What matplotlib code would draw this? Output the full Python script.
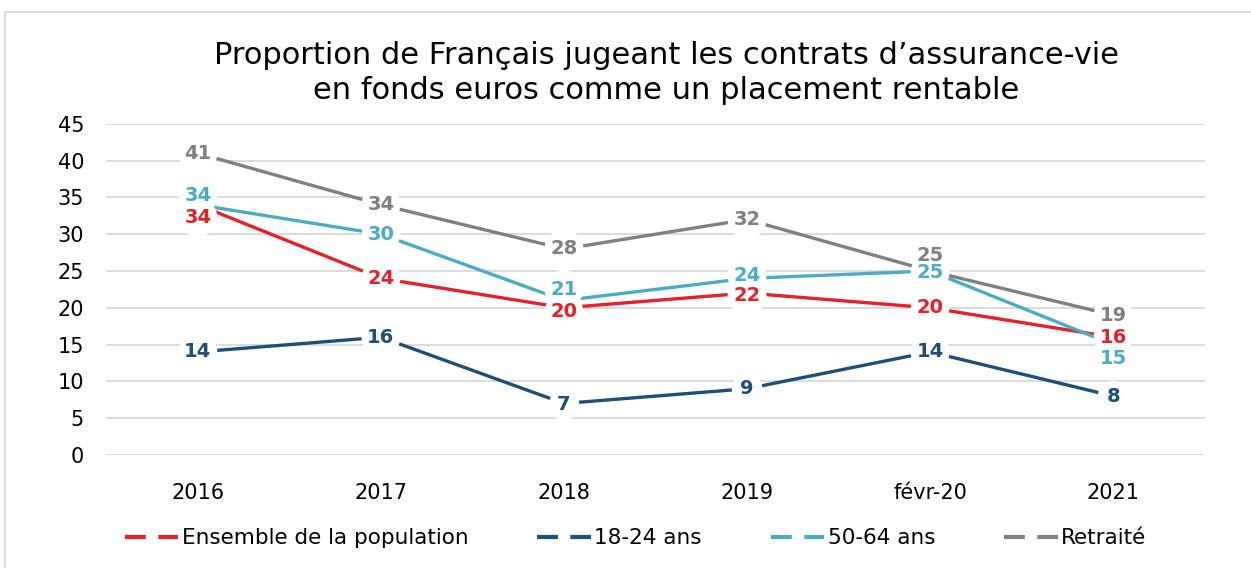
"""Assurance-vie en fonds euros: proportion jugeant le placement rentable."""

import matplotlib

matplotlib.use("Agg")
import matplotlib.pyplot as plt  # noqa: E402
from matplotlib.patches import Rectangle  # noqa: E402

years = ["2016", "2017", "2018", "2019", "févr-20", "2021"]
ensemble = [34, 24, 20, 22, 20, 16]
jeunes = [14, 16, 7, 9, 14, 8]
seniors = [34, 30, 21, 24, 25, 15]
retraites = [41, 34, 28, 32, 25, 19]

series = [
    ("Ensemble de la population", ensemble, "#e8202a"),
    ("18-24 ans", jeunes, "#1f4e79"),
    ("50-64 ans", seniors, "#4bacc6"),
    ("Retraité", retraites, "#808080"),
]

# label offsets in points (dx, dy) per series, so labels do not sit on top of each other
offsets = {
    "Ensemble de la population": [(0, -9), (0, 0), (0, -3), (0, -2), (0, 0), (0, 0)],
    "18-24 ans": [(0, 0), (0, 0), (0, -1), (0, 0), (0, 0), (0, 0)],
    "50-64 ans": [(0, 7), (0, 0), (0, 8), (0, 2), (0, -1), (0, -10)],
    "Retraité": [(0, 0), (0, 0), (0, 0), (0, 0), (0, 11), (0, 0)],
}

plt.rcParams["font.family"] = ["DejaVu Sans"]

fig = plt.figure(figsize=(12.51, 5.68), dpi=100)
ax = fig.add_axes([0.085, 0.199, 0.878, 0.583])

x = range(len(years))
for name, vals, color in series:
    ax.plot(x, vals, color=color, lw=2.4, label=name, zorder=2)

# two passes: white discs first (hide the lines), then all the numbers on top
for layer in ("disc", "text"):
    for name, vals, color in series:
        for i, v in enumerate(vals):
            dx, dy = offsets[name][i]
            kw = dict(xytext=(dx, dy), textcoords="offset points", ha="center",
                      va="center", fontsize=14, fontweight="bold")
            if layer == "disc":
                ax.annotate(str(v), (i, v), color="none", zorder=3,
                            bbox=dict(boxstyle="circle,pad=0.3", fc="white", ec="none"), **kw)
            else:
                ax.annotate(str(v), (i, v), color=color, zorder=4, **kw)

ax.set_xlim(-0.5, len(years) - 0.5)
ax.set_ylim(0, 45)
ax.set_yticks(range(0, 46, 5))
ax.set_xticks(list(x))
ax.set_xticklabels(years)
ax.tick_params(axis="both", length=0, labelsize=15, colors="#000000")
ax.tick_params(axis="x", pad=20)
ax.tick_params(axis="y", pad=16)
ax.grid(axis="y", color="#d9d9d9", lw=1.3, zorder=0)
for s in ax.spines.values():
    s.set_visible(False)

ax.set_title("Proportion de Français jugeant les contrats d’assurance-vie\n"
             "en fonds euros comme un placement rentable",
             fontsize=22, pad=18, linespacing=1.25, x=0.51)

handles = [plt.Line2D([], [], color=c, lw=3, dashes=(5, 3)) for _, _, c in series]
fig.legend(handles, [s[0] for s in series], loc="center", bbox_to_anchor=(0.508, 0.052),
           ncol=4, frameon=False, fontsize=15.5, handlelength=2.5, handletextpad=0.15,
           columnspacing=3.2)

fig.patches.append(Rectangle((0.004, -0.1), 1.2, 1.079, transform=fig.transFigure,
                             fill=False, ec="#d9d9d9", lw=1.3))

fig.savefig("out.png", dpi=100)
